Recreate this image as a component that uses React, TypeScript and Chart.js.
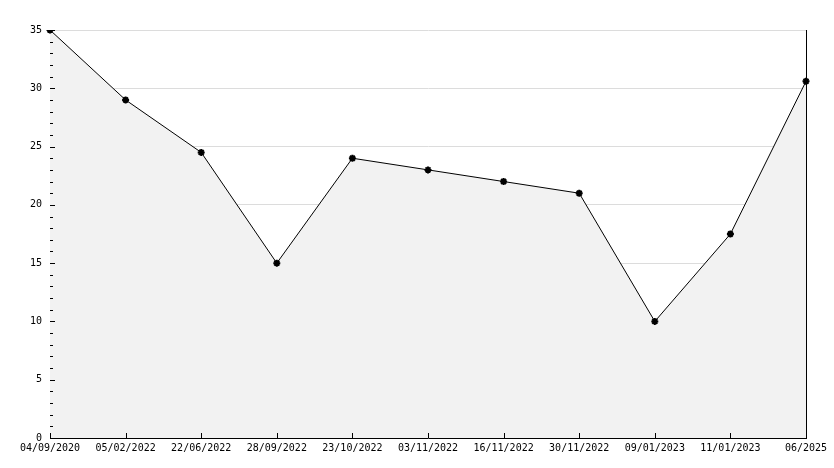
import { useEffect, useRef } from "react";
import { Chart, registerables } from "chart.js";

Chart.register(...registerables);

const categories = [
  "04/09/2020",
  "05/02/2022",
  "22/06/2022",
  "28/09/2022",
  "23/10/2022",
  "03/11/2022",
  "16/11/2022",
  "30/11/2022",
  "09/01/2023",
  "11/01/2023",
  "06/2025",
];
const values = [35, 29, 24.5, 15, 24, 23, 22, 21, 10, 17.5, 30.6];
const yMin = 0;
const yMax = 35;
const yMajorStep = 5;
const yMinorStep = 1;

const axisDecor = {
  id: "axisDecor",
  afterDatasetsDraw(chart: any) {
    const { ctx, chartArea, scales } = chart;
    const x = scales.x;
    const y = scales.y;
    ctx.save();
    ctx.strokeStyle = "#000";
    ctx.lineWidth = 1;
    ctx.beginPath();
    // right border
    ctx.moveTo(Math.round(chartArea.right) + 0.5, chartArea.top);
    ctx.lineTo(Math.round(chartArea.right) + 0.5, chartArea.bottom);
    // y ticks (inside)
    for (let v = yMin; v <= yMax + 1e-9; v += yMinorStep) {
      const py = Math.round(y.getPixelForValue(v)) + 0.5;
      const len = v % yMajorStep === 0 ? 5 : 3;
      ctx.moveTo(chartArea.left, py);
      ctx.lineTo(chartArea.left + len, py);
    }
    // x ticks (inside)
    for (let i = 0; i < categories.length; i++) {
      const px = Math.round(x.getPixelForValue(i)) + 0.5;
      ctx.moveTo(px, chartArea.bottom);
      ctx.lineTo(px, chartArea.bottom - 5);
    }
    ctx.stroke();
    ctx.restore();
  },
};

export default function App() {
  const ref = useRef<HTMLCanvasElement | null>(null);
  useEffect(() => {
    document.body.style.margin = "0";
    const chart = new Chart(ref.current!, {
      type: "line",
      data: {
        labels: categories,
        datasets: [
          {
            data: values,
            borderColor: "#000",
            borderWidth: 1,
            backgroundColor: "#f2f2f2",
            fill: "origin",
            tension: 0,
            pointStyle: "star",
            pointRadius: 3.5,
            pointBorderWidth: 2,
            pointBorderColor: "#000",
            pointBackgroundColor: "#000",
          },
        ],
      },
      options: {
        animation: false,
        responsive: false,
        maintainAspectRatio: false,
        layout: {
          autoPadding: false,
          padding: { left: 0, right: 28, top: 30, bottom: 0 },
        },
        plugins: {
          legend: { display: false },
          tooltip: { enabled: false },
        },
        scales: {
          x: {
            type: "category",
            offset: false,
            grid: { display: false, drawTicks: false },
            border: { display: true, color: "#000", width: 1 },
            ticks: {
              autoSkip: false,
              maxRotation: 0,
              minRotation: 0,
              padding: 4,
              color: "#000",
              font: { family: "DejaVu Sans Mono", size: 10 },
            },
            afterFit: (s: any) => {
              s.height = 30;
            },
          },
          y: {
            min: yMin,
            max: yMax,
            grid: { color: "#dcdcdc", drawTicks: false, lineWidth: 1 },
            border: { display: true, color: "#000", width: 1 },
            ticks: {
              stepSize: yMajorStep,
              padding: 8,
              color: "#000",
              font: { family: "DejaVu Sans Mono", size: 10 },
            },
            afterFit: (s: any) => {
              s.width = 50;
            },
          },
        },
      },
      plugins: [axisDecor],
    });
    return () => chart.destroy();
  }, []);
  return (
    <div style={{ width: 834, height: 468 }}>
      <canvas ref={ref} width={834} height={468} style={{ display: "block" }} />
    </div>
  );
}
